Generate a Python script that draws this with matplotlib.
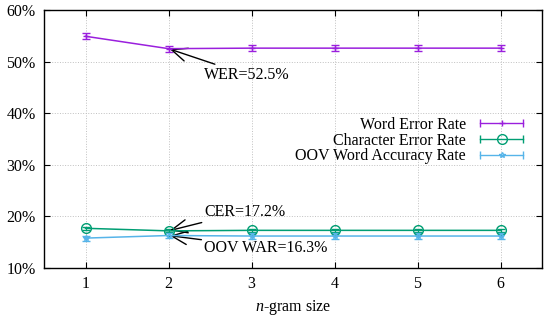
import matplotlib
matplotlib.use("Agg")
import matplotlib.pyplot as plt
from matplotlib.lines import Line2D
from matplotlib.legend_handler import HandlerLine2D
from matplotlib.ticker import FuncFormatter

plt.rcParams['font.family'] = ['Liberation Serif', 'DejaVu Serif']
plt.rcParams['mathtext.fontset'] = 'custom'
plt.rcParams['mathtext.it'] = 'Liberation Serif:italic'
plt.rcParams['mathtext.rm'] = 'Liberation Serif'

# data
ngram = [1, 2, 3, 4, 5, 6]
wer = [54.9, 52.5, 52.6, 52.6, 52.6, 52.6]
wer_err = [0.6, 0.6, 0.6, 0.6, 0.6, 0.6]
cer = [17.7, 17.2, 17.3, 17.3, 17.3, 17.3]
cer_err = [0.3, 0.3, 0.3, 0.3, 0.3, 0.3]
oov = [15.8, 16.3, 16.2, 16.2, 16.2, 16.2]
oov_err = [0.5, 0.5, 0.5, 0.5, 0.5, 0.5]
labels = ["Word Error Rate", "Character Error Rate", "OOV Word Accuracy Rate"]
colors = ["#9a1fdd", "#009e73", "#56b4e9"]

fs = 11.5
fig = plt.figure(figsize=(5.5, 3.21), dpi=100)
ax = fig.add_axes([0.08, 0.165, 0.9055, 0.804])

series = [(wer, wer_err, '+'), (cer, cer_err, 'o'), (oov, oov_err, '*')]
handles = []
hmap = {}
for (vals, err, mk), col, lab in zip(series, colors, labels):
    ms = 7 if mk == 'o' else 4
    ax.errorbar(ngram, vals, yerr=err, color=col, lw=1.1, marker=mk, ms=ms,
                mfc='none', mew=1.0, capsize=3, elinewidth=0.9, capthick=0.9, zorder=3)
    caps = Line2D([], [], color=col, lw=1.0, marker='|', ms=6, mew=1.0)
    center = Line2D([], [], color=col, lw=0, marker=mk, ms=ms, mfc='none', mew=1.0)
    hmap[caps] = HandlerLine2D(numpoints=2)
    hmap[center] = HandlerLine2D(numpoints=1)
    handles.append((caps, center))

ax.set_xlim(0.5, 6.5)
ax.set_ylim(10, 60)
ax.set_xticks(ngram)
ax.set_yticks([10, 20, 30, 40, 50, 60])
ax.yaxis.set_major_formatter(FuncFormatter(lambda v, p: "%d%%" % v))
ax.grid(True, ls=':', color='#c0c0c0', lw=0.7)
ax.set_axisbelow(True)
ax.tick_params(direction='in', top=True, right=True, length=4, labelsize=fs, pad=6)
for s in ax.spines.values():
    s.set_linewidth(1.0)
ax.set_xlabel("$n$-gram size", fontsize=fs, labelpad=4)

ann = dict(arrowstyle='->,head_length=0.7,head_width=0.3', color='black', lw=1.0,
           mutation_scale=16, shrinkA=0, shrinkB=1)
ax.annotate("WER=52.5%", xy=(2, wer[1]), xytext=(2.43, 47.4), fontsize=fs, va='center',
            arrowprops=ann)
ax.annotate("CER=17.2%", xy=(2, cer[1]), xytext=(2.43, 20.9), fontsize=fs, va='center',
            arrowprops=ann)
ax.annotate("OOV WAR=16.3%", xy=(2, oov[1]), xytext=(2.43, 13.9), fontsize=fs, va='center',
            arrowprops=ann)

leg = ax.legend(handles, labels, handler_map=hmap, loc='upper right', bbox_to_anchor=(0.985, 0.61),
                frameon=False, markerfirst=False, fontsize=fs, handlelength=3.3, labelspacing=-0.02,
                handletextpad=0.6, alignment='right', borderaxespad=0)
for t in leg.get_texts():
    t.set_ha('right')

fig.savefig("out.png", dpi=100)
